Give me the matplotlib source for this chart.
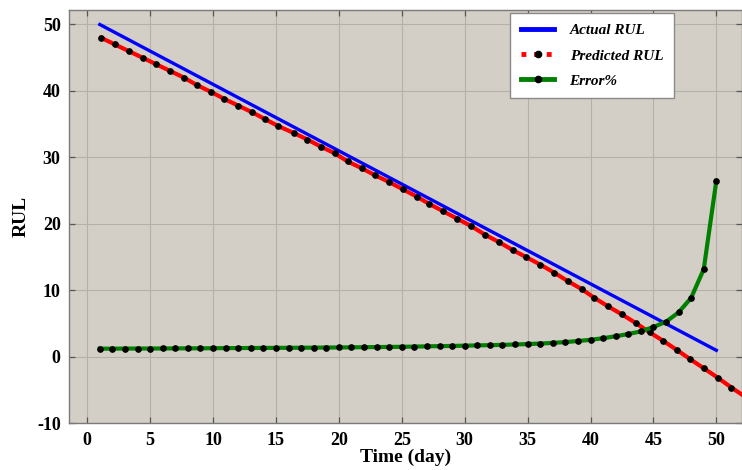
import numpy as np
import matplotlib
matplotlib.use("Agg")
import matplotlib.pyplot as plt
from matplotlib.lines import Line2D

# Actual remaining useful life (days 1..50)
days = np.arange(1, 51)
actual_rul = [50, 49, 48, 47, 46, 45, 44, 43, 42, 41,
              40, 39, 38, 37, 36, 35, 34, 33, 32, 31,
              30, 29, 28, 27, 26, 25, 24, 23, 22, 21,
              20, 19, 18, 17, 16, 15, 14, 13, 12, 11,
              10, 9, 8, 7, 6, 5, 4, 3, 2, 1]

# Predicted RUL samples
pred_days = [1.1, 2.2, 3.3, 4.4, 5.5, 6.6, 7.7, 8.7, 9.8, 10.9,
             12.0, 13.1, 14.1, 15.2, 16.4, 17.5, 18.6, 19.7, 20.7, 21.8,
             22.9, 24.0, 25.1, 26.2, 27.2, 28.3, 29.4, 30.5, 31.6, 32.7,
             33.8, 34.9, 36.0, 37.1, 38.2, 39.3, 40.3, 41.4, 42.5, 43.6,
             44.7, 45.8, 46.9, 47.9, 49.0, 50.1, 51.2, 52.3]
pred_rul = [48.0, 47.0, 46.0, 45.0, 44.0, 43.0, 42.0, 40.9, 39.9, 38.8,
            37.8, 36.8, 35.8, 34.7, 33.7, 32.7, 31.6, 30.6, 29.4, 28.4,
            27.3, 26.3, 25.2, 24.1, 23.0, 21.9, 20.8, 19.7, 18.4, 17.3,
            16.1, 15.0, 13.9, 12.7, 11.4, 10.2, 8.9, 7.6, 6.4, 5.1,
            3.7, 2.4, 1.0, -0.3, -1.7, -3.1, -4.6, -6.0]

# Prediction error in percent
error_pct = [1.25, 1.25, 1.26, 1.27, 1.27, 1.28, 1.29, 1.30, 1.30, 1.32,
             1.33, 1.34, 1.35, 1.36, 1.37, 1.38, 1.39, 1.40, 1.42, 1.43,
             1.45, 1.47, 1.49, 1.51, 1.53, 1.56, 1.60, 1.63, 1.66, 1.70,
             1.74, 1.78, 1.82, 1.88, 1.94, 2.02, 2.12, 2.24, 2.40, 2.58,
             2.82, 3.12, 3.45, 3.85, 4.50, 5.30, 6.70, 8.90, 13.2, 26.5]

x_ticks = [0, 5, 10, 15, 20, 25, 30, 35, 40, 45, 50]
y_ticks = [-10, 0, 10, 20, 30, 40, 50]

plt.rcParams['font.family'] = ['Liberation Serif', 'DejaVu Serif']
plt.rcParams['axes.unicode_minus'] = False

fig = plt.figure(figsize=(7.42, 4.70), dpi=100)
ax = fig.add_axes([0.093, 0.099, 0.907, 0.880])
ax.set_facecolor('#d4cfc6')

ax.plot(days, actual_rul, color='#0000ff', lw=2.4, zorder=3)
ax.plot(pred_days, pred_rul, color='#ff0000', lw=3.0, marker='o', ms=3.8,
        mfc='black', mec='black', zorder=4)
ax.plot(days, error_pct, color='#008000', lw=3.0, marker='o', ms=3.8,
        mfc='black', mec='black', zorder=5)

ax.set_xlim(-1.45, 52.04)
ax.set_ylim(-10, 52.2)
ax.set_xticks(x_ticks)
ax.set_yticks(y_ticks)
ax.grid(True, color='#b5b1a9', lw=0.8)
ax.set_axisbelow(True)

ax.tick_params(direction='in', length=4, width=0.9, color='#555555',
               top=True, right=True, labelsize=13, pad=6)
for lab in ax.get_xticklabels() + ax.get_yticklabels():
    lab.set_fontweight('bold')
for sp in ax.spines.values():
    sp.set_color('#7a7a7a')
    sp.set_linewidth(1.0)

ax.set_xlabel('Time (day)', fontsize=14, fontweight='bold', labelpad=0)
ax.set_ylabel('RUL', fontsize=14, fontweight='bold', labelpad=5)

handles = [
    Line2D([], [], color='#0000ff', lw=3.5),
    Line2D([], [], color='#ff0000', lw=3.5, ls=(0, (1.0, 1.6)),
           marker='o', ms=4.5, mfc='black', mec='black'),
    Line2D([], [], color='#008000', lw=3.5, marker='o', ms=4.5,
           mfc='black', mec='black'),
]
labels = ['Actual RUL', 'Predicted RUL', 'Error%']
leg = ax.legend(handles, labels, loc='upper left',
                bbox_to_anchor=(510 / 742, 1 - 13 / 470),
                bbox_transform=fig.transFigure, borderaxespad=0,
                prop={'family': 'Liberation Serif', 'style': 'italic',
                      'weight': 'bold', 'size': 11},
                handlelength=2.2, handletextpad=1.0, labelspacing=0.75,
                borderpad=0.7, fancybox=False, framealpha=1.0,
                edgecolor='#8a8a8a', numpoints=1)
leg.get_frame().set_linewidth(1.0)

fig.savefig('out.png', dpi=100, facecolor='white')
